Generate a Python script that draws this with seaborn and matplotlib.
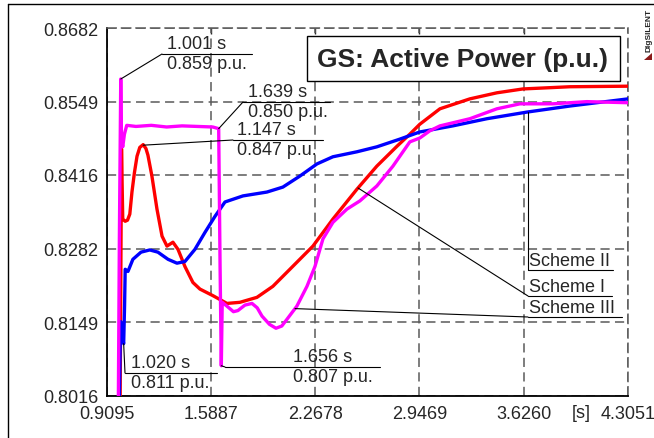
import numpy as np
import matplotlib
matplotlib.use('Agg')
import matplotlib.pyplot as plt
from matplotlib.lines import Line2D
from matplotlib.patches import Rectangle, Polygon
from matplotlib.ticker import AutoMinorLocator
import seaborn as sns

# 数据: 时间 (s) 与有功功率 (p.u.)
t_scheme1 = [0.9095, 0.995, 1.006, 1.014, 1.030, 1.045, 1.060, 1.074, 1.090, 1.107, 1.125, 1.147,
             1.165, 1.178, 1.204, 1.237, 1.270, 1.302, 1.341, 1.374, 1.419, 1.471, 1.517, 1.602,
             1.693, 1.777, 1.888, 1.992, 2.103, 2.253, 2.383, 2.539, 2.669, 2.800, 2.884, 2.949,
             3.080, 3.275, 3.451, 3.620, 3.926, 4.3051]
p_scheme1 = [0.7900, 0.7900, 0.8463, 0.8336, 0.8332, 0.8334, 0.8345, 0.8385, 0.8420, 0.8450, 0.8466, 0.8471,
             0.8464, 0.8452, 0.8414, 0.8354, 0.8305, 0.8287, 0.8294, 0.8281, 0.8250, 0.8221, 0.8209, 0.8197,
             0.8183, 0.8185, 0.8194, 0.8214, 0.8245, 0.8287, 0.8336, 0.8390, 0.8432, 0.8468, 0.8490, 0.8508,
             0.8536, 0.8554, 0.8565, 0.8572, 0.8576, 0.8577]

t_scheme2 = [0.9095, 0.985, 1.000, 1.012, 1.020, 1.026, 1.030, 1.048, 1.080, 1.133, 1.190, 1.243,
             1.309, 1.367, 1.419, 1.484, 1.550, 1.615, 1.680, 1.797, 1.953, 2.057, 2.168, 2.279,
             2.383, 2.539, 2.669, 2.819, 2.949, 3.164, 3.386, 3.646, 3.926, 4.3051]
p_scheme2 = [0.7900, 0.7900, 0.8150, 0.8120, 0.8110, 0.8180, 0.8245, 0.8241, 0.8263, 0.8276, 0.8280, 0.8276,
             0.8263, 0.8256, 0.8259, 0.8281, 0.8312, 0.8341, 0.8367, 0.8378, 0.8385, 0.8394, 0.8414, 0.8436,
             0.8449, 0.8458, 0.8467, 0.8481, 0.8494, 0.8505, 0.8518, 0.8530, 0.8541, 0.8554]

t_scheme3 = [0.9095, 0.983, 0.992, 1.001, 1.006, 1.014, 1.025, 1.040, 1.100, 1.200, 1.300, 1.400,
             1.500, 1.600, 1.639, 1.648, 1.656, 1.662, 1.693, 1.735, 1.764, 1.810, 1.856, 1.890,
             1.921, 1.970, 2.012, 2.050, 2.083, 2.148, 2.214, 2.266, 2.318, 2.383, 2.474, 2.559,
             2.669, 2.774, 2.884, 2.949, 3.014, 3.080, 3.275, 3.451, 3.601, 3.815, 4.037, 4.3051]
p_scheme3 = [0.7900, 0.7900, 0.8300, 0.8590, 0.8480, 0.8467, 0.8490, 0.8506, 0.8504, 0.8506, 0.8503, 0.8505,
             0.8504, 0.8503, 0.8500, 0.8250, 0.8070, 0.8185, 0.8178, 0.8168, 0.8170, 0.8180, 0.8183, 0.8175,
             0.8160, 0.8145, 0.8138, 0.8142, 0.8154, 0.8178, 0.8214, 0.8250, 0.8300, 0.8330, 0.8354, 0.8369,
             0.8396, 0.8432, 0.8476, 0.8483, 0.8496, 0.8505, 0.8518, 0.8536, 0.8545, 0.8545, 0.8549, 0.8547]

x_ticks = [0.9095, 1.5887, 2.2678, 2.9469, 3.6260, 4.3051]
x_ticklabels = ['0.9095', '1.5887', '2.2678', '2.9469', '3.6260', '4.3051']
y_ticks = [0.8016, 0.8149, 0.8282, 0.8416, 0.8549, 0.8682]
y_ticklabels = ['0.8016', '0.8149', '0.8282', '0.8416', '0.8549', '0.8682']

# 标注: (时间, 数值)
marks_t = [1.001, 1.639, 1.147, 1.020, 1.656]
marks_p = [0.859, 0.850, 0.847, 0.811, 0.807]

scheme_names = ['Scheme I', 'Scheme II', 'Scheme III']
colors = ['#ff0000', '#0000ff', '#ff00ff']

sns.set_style('white')
plt.rcParams['font.family'] = ['Liberation Sans', 'DejaVu Sans']

W, H = 654, 439
fig = plt.figure(figsize=(W / 100, H / 100), dpi=100)
# 坐标轴在原图中的像素范围
AX_L, AX_R, AX_T, AX_B = 106.7, 628.0, 29.3, 396.5
ax = fig.add_axes([AX_L / W, (H - AX_B) / H, (AX_R - AX_L) / W, (AX_B - AX_T) / H])
xmin, xmax = x_ticks[0], x_ticks[-1]
ymin, ymax = y_ticks[0], y_ticks[-1]


def px_x(px):
    return xmin + (px - AX_L) / (AX_R - AX_L) * (xmax - xmin)


def px_y(py):
    return ymax - (py - AX_T) / (AX_B - AX_T) * (ymax - ymin)


series = [(t_scheme1, p_scheme1), (t_scheme2, p_scheme2), (t_scheme3, p_scheme3)]
for (t, p), c in zip(series, colors):
    sns.lineplot(x=t, y=p, color=c, linewidth=2.4, ax=ax, sort=False, zorder=3)

ax.set_xlim(xmin, xmax)
ax.set_ylim(ymin, ymax)
ax.set_xticks(x_ticks)
ax.set_xticklabels(x_ticklabels)
ax.set_yticks(y_ticks)
ax.set_yticklabels(y_ticklabels)
ax.xaxis.set_minor_locator(AutoMinorLocator(2))
ax.yaxis.set_minor_locator(AutoMinorLocator(2))
ax.tick_params(which='major', direction='in', length=6, width=1, labelsize=13, color='black')
ax.tick_params(which='minor', direction='in', length=3.5, width=1, color='black')
ax.tick_params(axis='y', pad=6)
ax.tick_params(axis='x', pad=7)
ax.set_xlabel('')
ax.set_ylabel('')

grid_dash = (0, (6, 3.5))
ax.grid(True, which='major', color='#5a5a5a', linestyle=grid_dash, linewidth=1.1, zorder=1)
for side in ['left', 'bottom']:
    ax.spines[side].set_color('black')
    ax.spines[side].set_linewidth(1.3)
for side in ['top', 'right']:
    ax.spines[side].set_color('#5a5a5a')
    ax.spines[side].set_linestyle(grid_dash)
    ax.spines[side].set_linewidth(1.1)

sec = ax.secondary_xaxis('top')
sec.set_xticks(x_ticks[1:-1])
sec.tick_params(direction='in', length=4, width=1, labeltop=False)
for s in sec.spines.values():
    s.set_visible(False)

fig.text(581 / W, 1 - 414 / H, '[s]', ha='center', va='center', fontsize=13)

# 标题框
ax.add_patch(Rectangle((px_x(307), px_y(82)), px_x(620) - px_x(307), px_y(37) - px_y(82),
                       facecolor='white', edgecolor='black', linewidth=1, zorder=5))
ax.text(px_x(463), px_y(60), 'GS: Active Power (p.u.)', ha='center', va='center',
        fontsize=19, fontweight='bold', zorder=6)

# 数值标注 (引线, 下划线, 文字)
ann_layout = [  # 下划线起点x, 终点x, y, 文字x
    (162, 252, 55, 167),
    (243, 330, 103, 248),
    (233, 323, 141, 237),
    (125, 217, 374, 131),
    (225, 380, 368, 293),
]
for t, p, (ux0, ux1, uy, tx) in zip(marks_t, marks_p, ann_layout):
    ax.plot([t, px_x(ux0)], [p, px_y(uy)], color='black', linewidth=0.8, zorder=4, clip_on=False)
    ax.plot([px_x(ux0), px_x(ux1)], [px_y(uy), px_y(uy)], color='black', linewidth=0.8, zorder=4)
    ax.text(px_x(tx), px_y(uy - 1.5), f'{t:.3f} s', ha='left', va='bottom', fontsize=13, zorder=4)
    ax.text(px_x(tx), px_y(uy + 1.5), f'{p:.3f} p.u.', ha='left', va='top', fontsize=13, zorder=4)

# 方案标签
label_layout = [  # 曲线上引线起点x, 下划线起点x, 终点x, y
    (358, 528, 612, 297),
    (528, 528, 613, 271),
    (295, 528, 622, 318),
]
for name, (t, p), (ax0, ux0, ux1, uy) in zip(scheme_names, series, label_layout):
    t0 = px_x(ax0)
    p0 = np.interp(t0, t, p)
    ax.plot([t0, px_x(ux0)], [p0, px_y(uy)], color='black', linewidth=0.8, zorder=4)
    ax.plot([px_x(ux0), px_x(ux1)], [px_y(uy), px_y(uy)], color='black', linewidth=0.8, zorder=4)
    ax.text(px_x(ux0 + 1), px_y(uy - 1), name, ha='left', va='bottom', fontsize=13, zorder=4)

# 外框与标志
fig.add_artist(Line2D([8 / W, 8 / W], [0, 1 - 5 / H], color='black', linewidth=1))
fig.add_artist(Line2D([8 / W, 1], [1 - 5 / H, 1 - 5 / H], color='black', linewidth=1))
fig.text(649 / W, 1 - 9 / H, 'DIgSILENT', rotation=90, ha='center', va='top', fontsize=6, fontweight='bold')
fig.add_artist(Polygon([[644 / W, 1 - 61 / H], [652 / W, 1 - 61 / H], [652 / W, 1 - 54 / H]],
                       closed=True, facecolor='#8b1a1a', edgecolor='none'))

fig.savefig('out.png', dpi=100)
